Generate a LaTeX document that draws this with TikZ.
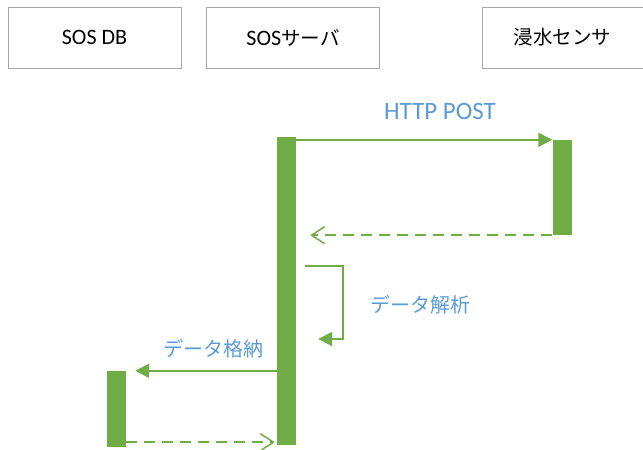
\documentclass[tikz,border=0pt]{standalone}
\usepackage{fontspec}
\setmainfont{Carlito}
\newfontfamily\jp{Noto Sans CJK JP}
\usepackage{xcolor}
\usepackage{tikz}
\usetikzlibrary{calc,arrows.meta,positioning}
\definecolor{barc}{HTML}{70AD47}
\definecolor{labc}{HTML}{5B9BD5}
\definecolor{edgec}{HTML}{A6A6A6}
\newcommand{\jpbox}{\jp\fontsize{19.5}{22}\selectfont}
\tikzset{
  lifebox/.style={draw=edgec,line width=1pt,minimum width=173pt,minimum height=61pt,inner sep=0pt,font=\fontsize{22}{26}\selectfont},
  bar/.style={fill=barc,inner sep=0pt,minimum width=19pt},
  msg/.style={-{Triangle[length=14pt,width=14pt]},line width=2pt,barc},
  ret/.style={-{Straight Barb[length=13pt,width=17pt,line width=1.5pt]},line width=2pt,barc,dash pattern=on 11pt off 7pt},
  lab/.style={labc,inner sep=0pt}
}

\begin{document}
\begin{tikzpicture}[x=1pt,y=-1pt]
\useasboundingbox (0,0) rectangle (643,450);
% lifelines
\node[lifebox] (db) at (94.5,37.5) {SOS DB};
\node[lifebox] (srv) at (293,37.5) {SOS{\jpbox サーバ}};
\node[lifebox,minimum width=161pt] (sens) at (562.5,37.5) {{\jpbox 浸水センサ}};
% activation bars
\node[bar,minimum height=308pt] (srvbar) at (286.5,291) {};
\node[bar,minimum height=95pt] (sensbar) at (562,187.5) {};
\node[bar,minimum height=76pt] (dbbar) at (116.5,409) {};
% messages
\draw[msg] (srvbar.east |- sensbar.north) -- (sensbar.north west);
\node[lab,font=\fontsize{25}{29}\selectfont] (post) at (440,111) {HTTP POST};
\draw[ret] (sensbar.south west) -- ($(srvbar.east |- sensbar.south)+(14,0)$);
\coordinate (loopa) at ($(srvbar.east)+(9,-25)$);
\coordinate (loopb) at ($(srvbar.east)+(47,48)$);
\draw[msg] (loopa) -| (loopb) -- ($(srvbar.east)+(22,48)$);
\node[lab,anchor=west,font=\jp\fontsize{20}{24}\selectfont] (parse) at (370,305) {データ解析};
\draw[msg] (srvbar.west |- dbbar.north) -- ($(dbbar.north east)+(9,0)$);
\node[lab,font=\jp\fontsize{20}{24}\selectfont] (store) at (213,349) {データ格納};
\draw[ret] ($(dbbar.south east)+(0,-5)$) -- ($(srvbar.west |- dbbar.south)+(-2,-5)$);
\end{tikzpicture}
\end{document}
